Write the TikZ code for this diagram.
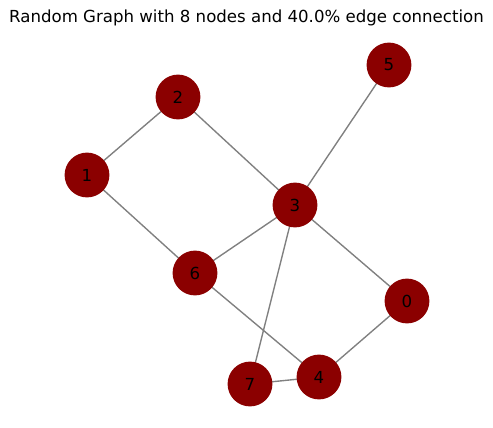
\documentclass[tikz,border=0pt]{standalone}
\usepackage{fontspec}
\setmainfont{DejaVu Sans}
\usepackage{xcolor}
\definecolor{rojoOscuro}{RGB}{139, 0, 0}
\definecolor{gris}{RGB}{128, 128, 128}
\usepackage{tikz}
\usetikzlibrary{arrows,shapes,calc,positioning,backgrounds}
\tikzstyle{edge}  =[line width=1pt, gris]
\tikzstyle{vertex}=[circle, fill=rojoOscuro, minimum size=32.4pt,
                    inner sep=0pt, outer sep=0pt, font=\fontsize{12}{14}\selectfont]

\begin{document}
\begin{tikzpicture}[x=0.0254cm, y=-0.0254cm]
    \useasboundingbox (0,0) rectangle (493,427);
    \node (title) at (246.5,18) {\fontsize{12}{14}\selectfont Random Graph with 8 nodes and 40.0\% edge connection};

    \draw (407,301) node (0) [vertex] {0};
    \draw (87,175)  node (1) [vertex] {1};
    \draw (178,97)  node (2) [vertex] {2};
    \draw (295,205) node (3) [vertex] {3};
    \draw (319,377) node (4) [vertex] {4};
    \draw (389,65)  node (5) [vertex] {5};
    \draw (195,273) node (6) [vertex] {6};
    \draw (250,384) node (7) [vertex] {7};

    \begin{scope}[on background layer]
    \foreach \i/\j in {1/2,2/3,1/6,3/5,3/6,3/0,3/7,6/4,0/4,7/4}
        \draw [edge] (\i.center) to (\j.center);
    \end{scope}

\end{tikzpicture}
\end{document}
